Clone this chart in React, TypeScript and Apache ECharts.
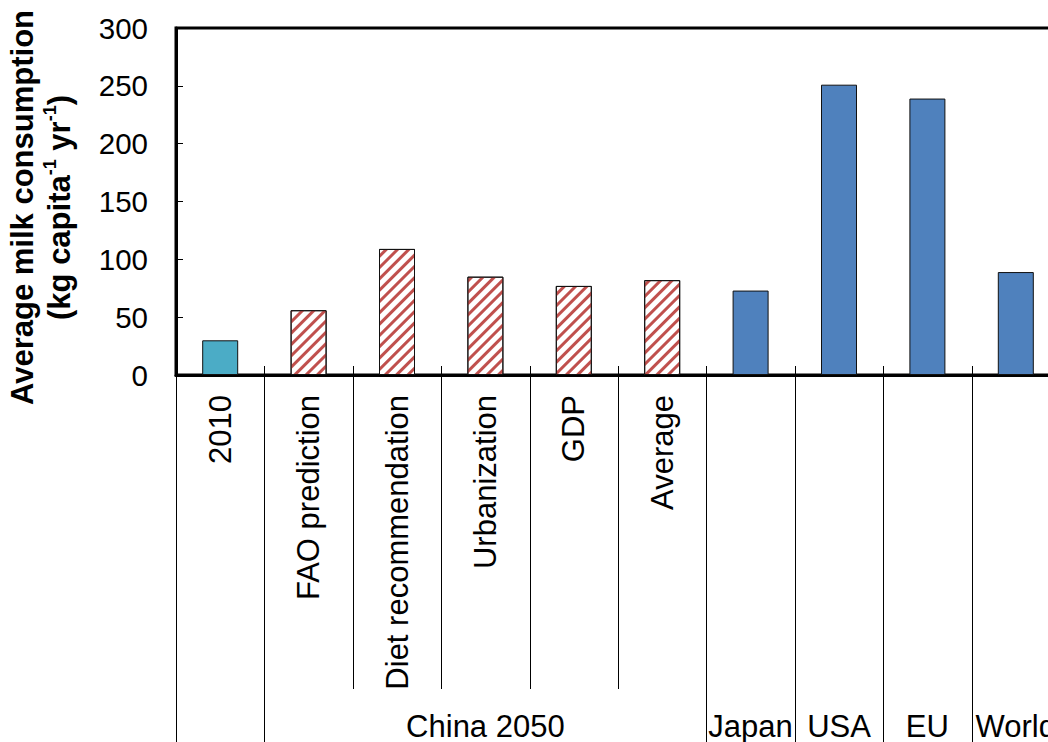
import React, { useEffect, useRef } from "react";
import * as echarts from "echarts";

const categories = [
  "2010",
  "FAO prediction",
  "Diet recommendation",
  "Urbanization",
  "GDP",
  "Average",
  "Japan",
  "USA",
  "EU",
  "World",
];
const values = [30, 56, 109, 85, 77, 82, 73, 251, 239, 89];
const kinds = ["current", "scenario", "scenario", "scenario", "scenario", "scenario", "region", "region", "region", "region"];
const yMin = 0;
const yMax = 300;
const yInterval = 50;
// second-level grouping of the category axis
const groupLabels = ["", "China 2050", "Japan", "USA", "EU", "World"];
const groupStarts = [0, 1, 6, 7, 8, 9];
const groupEnds = [0, 5, 6, 7, 8, 9];

const FONT = "'Liberation Sans', Arial, Helvetica, sans-serif";
const CHART_W = 1100;
const CHART_H = 742;

function itemStyleFor(kind: string) {
  if (kind === "current") {
    return { color: "#4BACC6", borderColor: "#111", borderWidth: 1 };
  }
  if (kind === "scenario") {
    return {
      color: "#ffffff",
      borderColor: "#111",
      borderWidth: 1,
      decal: {
        symbol: "rect",
        symbolSize: 1,
        dashArrayX: [1, 0],
        dashArrayY: [3, 5],
        rotation: -Math.PI / 4,
        color: "#C0504D",
        backgroundColor: "#ffffff",
      },
    };
  }
  return { color: "#4F81BD", borderColor: "#111", borderWidth: 1 };
}

export default function App() {
  const ref = useRef<HTMLDivElement>(null);

  useEffect(() => {
    if (!ref.current) return;
    const chart = echarts.init(ref.current, undefined, { renderer: "svg" });
    chart.setOption({
      animation: false,
      grid: {
        left: 176,
        top: 28,
        right: CHART_W - 1060,
        bottom: CHART_H - 375,
        outerBoundsMode: "none",
        containLabel: false,
        show: true,
        borderColor: "#000",
        borderWidth: 3,
        backgroundColor: "transparent",
      },
      xAxis: {
        type: "category",
        data: categories,
        boundaryGap: true,
        axisLine: { show: true, lineStyle: { color: "#000", width: 3 } },
        axisTick: { show: false },
        axisLabel: {
          interval: 0,
          rotate: 90,
          margin: 20,
          fontSize: 31,
          fontFamily: FONT,
          color: "#000",
          // regions are named only on the lower (group) level
          formatter: (v: string, i: number) => (kinds[i] === "region" ? "" : v),
        },
        splitLine: { show: false },
      },
      yAxis: {
        type: "value",
        min: yMin,
        max: yMax,
        interval: yInterval,
        axisLine: { show: true, lineStyle: { color: "#000", width: 3 } },
        axisTick: { show: true, inside: true, length: 7, lineStyle: { color: "#000", width: 1 } },
        axisLabel: { margin: 28, fontSize: 29.5, fontFamily: FONT, color: "#000" },
        splitLine: { show: false },
        name: "{t|Average milk consumption}\n{t|(kg capita}{s|-1}{t| yr}{s|-1}{t|)}",
        nameLocation: "middle",
        nameRotate: 90,
        nameGap: 98,
        nameTextStyle: {
          color: "#000",
          fontFamily: FONT,
          fontWeight: "bold",
          fontSize: 31,
          lineHeight: 37,
          padding: [0, 12, 0, 0],
          rich: {
            t: { fontFamily: FONT, fontWeight: "bold", fontSize: 31, lineHeight: 37, color: "#000" },
            s: { fontFamily: FONT, fontWeight: "bold", fontSize: 18, lineHeight: 26, verticalAlign: "top", color: "#000" },
          },
        },
      },
      series: [
        {
          type: "bar",
          barWidth: 36,
          data: values.map((v, i) => ({ value: v, itemStyle: itemStyleFor(kinds[i]) })),
        },
      ],
    });

    // separators and group labels, positioned from the axis scale
    const c0 = chart.convertToPixel({ xAxisIndex: 0 }, categories[0]) as number;
    const c1 = chart.convertToPixel({ xAxisIndex: 0 }, categories[1]) as number;
    const band = c1 - c0;
    const y0 = chart.convertToPixel({ yAxisIndex: 0 }, 0) as number;
    const boundaryX = (b: number) => c0 - band / 2 + b * band;
    const longSet = new Set<number>([...groupStarts, categories.length]);
    const graphics: any[] = [];
    for (let b = 0; b <= categories.length; b++) {
      const long = longSet.has(b);
      const x = Math.round(boundaryX(b)) + 0.5;
      graphics.push({
        type: "line",
        silent: true,
        shape: { x1: x, y1: y0 - 9, x2: x, y2: long ? CHART_H : y0 + 314 },
        style: { stroke: "#000", lineWidth: 1 },
      });
    }
    groupLabels.forEach((lab, g) => {
      if (!lab) return;
      const cx = (boundaryX(groupStarts[g]) + boundaryX(groupEnds[g] + 1)) / 2;
      graphics.push({
        type: "text",
        silent: true,
        x: cx,
        y: CHART_H - 16,
        style: {
          text: lab,
          fontSize: 31,
          fontFamily: FONT,
          fill: "#000",
          align: "center",
          verticalAlign: "middle",
        },
      });
    });
    chart.setOption({ graphic: graphics });

    return () => chart.dispose();
  }, []);

  return (
    <div style={{ position: "fixed", left: 0, top: 0, width: 1048, height: 742, overflow: "hidden", background: "#fff" }}>
      <div ref={ref} style={{ width: CHART_W, height: CHART_H }} />
    </div>
  );
}
